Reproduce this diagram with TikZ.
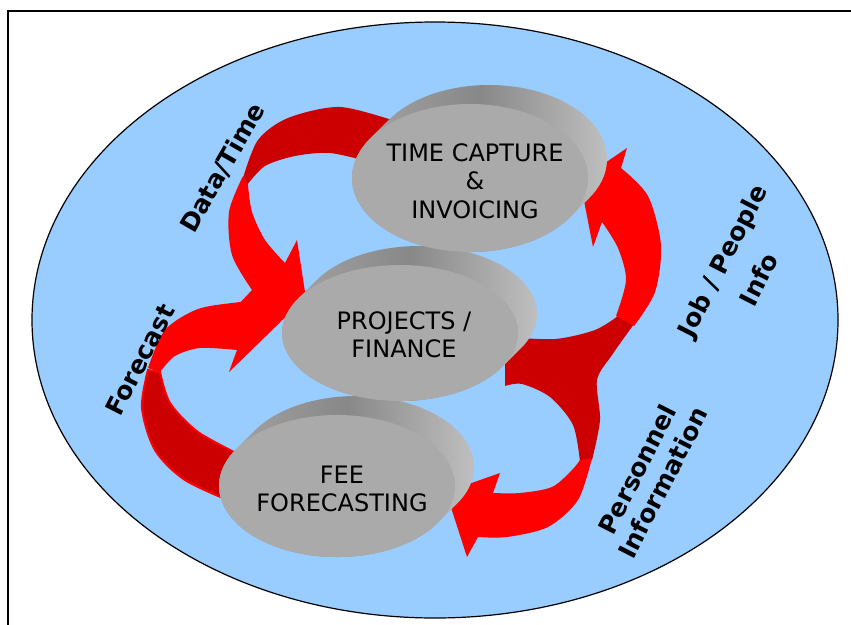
\documentclass[tikz,border=0pt]{standalone}
\usepackage{fontspec}
\setmainfont{DejaVu Sans}
\definecolor{skyfill}{HTML}{99CCFF}
\definecolor{arrowred}{HTML}{FF0000}
\definecolor{arrowdark}{HTML}{CC0000}
\definecolor{diskface}{HTML}{AAAAAA}
\definecolor{rimA}{HTML}{A8A8A8}
\definecolor{rimB}{HTML}{888888}
\definecolor{rimC}{HTML}{C6C6C6}

\begin{document}
\begin{tikzpicture}[x=1pt,y=-1pt,
    redfront/.style={fill=arrowred},
    redback/.style={fill=arrowdark},
    rim/.style={left color=rimA,right color=rimC,middle color=rimB},
    disktext/.style={align=center,font=\fontsize{24}{28.5}\selectfont},
    flow/.style={align=center,font=\fontsize{25}{29}\selectfont\bfseries}]
 \useasboundingbox (0,0) rectangle (851,624);
 \draw[line width=2pt] (8,640) |- (870,11);
 \draw[fill=skyfill,line width=1.2pt] (435,320) ellipse [x radius=403,y radius=298];
 % Data/Time
 \fill[redback] plot[smooth] coordinates {(398,122) (340,107) (288,118) (258,140) (243,178)}
  -- plot[smooth] coordinates {(247,185) (265,166) (295,156) (330,153) (370,162)} -- cycle;
 \fill[redfront] plot[smooth] coordinates {(243,176) (229,212) (232,255) (252,290)}
  -- (238,305) -- (307,305) -- (297,240)
  -- plot[smooth] coordinates {(285,263) (265,240) (252,212) (248,185)} -- cycle;
 % Forecast
 \filldraw[redback,draw=arrowred,line width=2pt] plot[smooth] coordinates {(235,503) (185,480) (155,450) (142,408) (148,370)}
  -- plot[smooth] coordinates {(160,372) (170,403) (198,432) (242,456)} -- cycle;
 \fill[redfront] plot[smooth] coordinates {(148,368) (165,330) (198,309) (240,302) (255,300)}
  -- (262,282) -- (303,300) -- (229,372)
  -- plot[smooth] coordinates {(237,350) (200,348) (175,356) (160,372)} -- cycle;
 % Job / People Info and Personnel Information
 \fill[redback] plot[smooth] coordinates {(505,337) (555,339) (595,330) (618,316)}
  -- plot[smooth] coordinates {(634,324) (612,355) (597,380) (600,420) (592,460)}
  -- plot[smooth] coordinates {(580,462) (573,425) (550,397) (522,384) (505,386)} -- cycle;
 \fill[redfront] plot[smooth] coordinates {(634,326) (655,292) (661,245) (648,196) (621,168)}
  -- (627,148) -- (580,180) -- (593,247)
  -- plot[smooth] coordinates {(602,222) (618,248) (626,280) (616,316)} -- cycle;
 \fill[redfront] plot[smooth] coordinates {(592,458) (578,500) (548,527) (507,537) (478,537)}
  -- (467,557) -- (446,492) -- (500,473)
  -- plot[smooth] coordinates {(493,493) (520,493) (552,487) (572,470) (580,460)} -- cycle;
 % disks
 \foreach \n/\cx/\cy/\ry in {fee/337/486/71,proj/400/333/68,time/470/178/74}{
   \pgfmathsetmacro\t{atan(\ry/118)}
   \path[rim] (\cx,\cy) ++({180+\t}:118 and \ry) -- ++(19,-19)
     arc[start angle=180+\t,end angle=360+\t,x radius=118,y radius=\ry] -- ++(-19,19)
     arc[start angle=\t,end angle=180+\t,x radius=118,y radius=\ry] -- cycle;
   \fill[diskface] (\cx,\cy) ellipse [x radius=118,y radius=\ry];
 }
 \node[disktext] (fee) at (342,489) {FEE\\FORECASTING};
 \node[disktext] (proj) at (404,335) {PROJECTS /\\FINANCE};
 \node[disktext] (time) at (475,181) {TIME CAPTURE\\\&\\INVOICING};
 % labels
 \node[flow,rotate=60] (datatime) at (223,168) {Data/Time};
 \node[flow,rotate=63] (forecast) at (140,360) {Forecast};
 \node[flow,rotate=63] (jobinfo) at (740,270) {Job / People\\[12pt]Info};
 \node[flow,rotate=63] (personnel) at (650,476) {Personnel\\Information};
\end{tikzpicture}
\end{document}
